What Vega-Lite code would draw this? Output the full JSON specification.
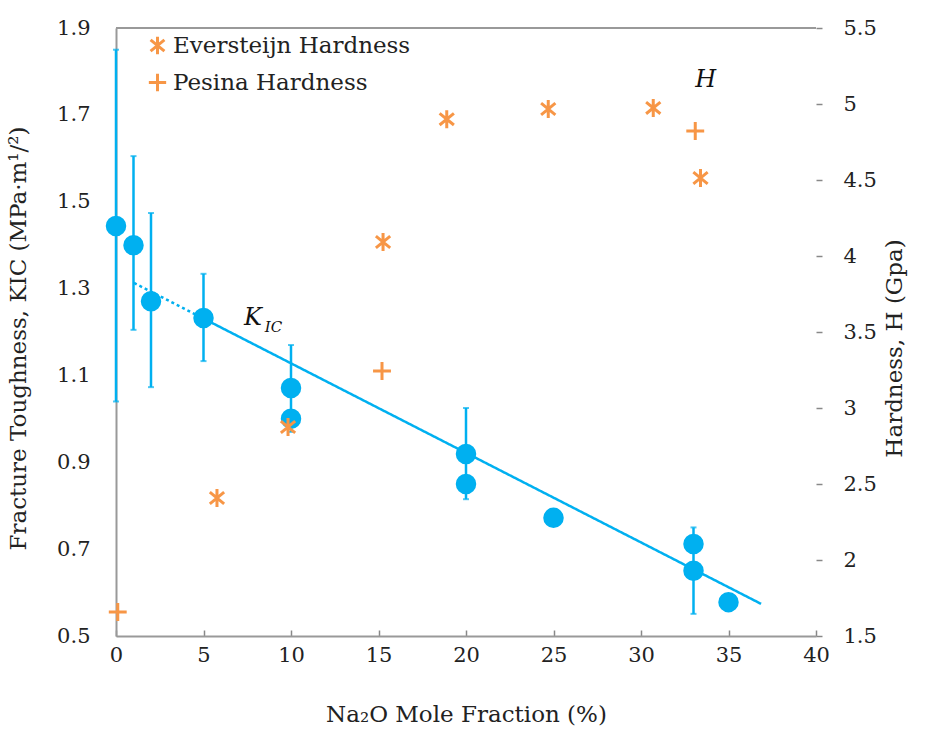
{
  "$schema": "https://vega.github.io/schema/vega-lite/v6.json",
  "width": 700,
  "height": 608,
  "autosize": {"type": "none"},
  "padding": {"left": 116, "top": 28, "right": 109, "bottom": 99},
  "background": "white",
  "config": {
    "view": {"stroke": null},
    "font": "DejaVu Serif",
    "axis": {
      "labelFont": "DejaVu Serif",
      "titleFont": "DejaVu Serif",
      "labelFontSize": 21,
      "titleFontSize": 23,
      "titleFontWeight": "normal",
      "labelColor": "#222222",
      "titleColor": "#222222",
      "grid": false,
      "domainColor": "#999999",
      "domainWidth": 2,
      "tickColor": "#888888",
      "tickWidth": 1.5
    },
    "legend": {
      "labelFont": "DejaVu Serif",
      "labelFontSize": 23,
      "labelColor": "#222222",
      "labelLimit": 400
    }
  },
  "datasets": {
    "kic": [
      {"x": 0, "k": 1.444, "lo": 1.04, "hi": 1.85},
      {"x": 1, "k": 1.40, "lo": 1.205, "hi": 1.605},
      {"x": 2, "k": 1.271, "lo": 1.073, "hi": 1.474},
      {"x": 5, "k": 1.232, "lo": 1.133, "hi": 1.334},
      {"x": 10, "k": 1.071, "lo": 0.97, "hi": 1.17},
      {"x": 10, "k": 1.0},
      {"x": 20, "k": 0.919, "lo": 0.815, "hi": 1.025},
      {"x": 20, "k": 0.85},
      {"x": 25, "k": 0.772},
      {"x": 33, "k": 0.712},
      {"x": 33, "k": 0.65, "lo": 0.551, "hi": 0.75},
      {"x": 35, "k": 0.578}
    ],
    "trend": [
      {"x": 1.03, "k": 1.313, "seg": "a"},
      {"x": 5.0, "k": 1.231, "seg": "a"},
      {"x": 5.0, "k": 1.231, "seg": "b"},
      {"x": 36.86, "k": 0.574, "seg": "b"}
    ],
    "hard": [
      {"x": 5.77, "h": 2.408, "src": "Eversteijn Hardness"},
      {"x": 9.83, "h": 2.875, "src": "Eversteijn Hardness"},
      {"x": 15.26, "h": 4.092, "src": "Eversteijn Hardness"},
      {"x": 18.9, "h": 4.90, "src": "Eversteijn Hardness"},
      {"x": 24.7, "h": 4.967, "src": "Eversteijn Hardness"},
      {"x": 30.7, "h": 4.974, "src": "Eversteijn Hardness"},
      {"x": 33.4, "h": 4.513, "src": "Eversteijn Hardness"},
      {"x": 0.1, "h": 1.658, "src": "Pesina Hardness"},
      {"x": 15.2, "h": 3.243, "src": "Pesina Hardness"},
      {"x": 33.1, "h": 4.822, "src": "Pesina Hardness"}
    ]
  },
  "layer": [
    {
      "layer": [
        {
          "data": {"name": "kic"},
          "transform": [{"filter": "isValid(datum.lo)"}],
          "mark": {"type": "rule", "color": "#00B0F0", "strokeWidth": 2.5},
          "encoding": {
            "x": {"field": "x", "type": "quantitative", "scale": {"domain": [0, 40], "nice": false},
              "axis": {"values": [0, 5, 10, 15, 20, 25, 30, 35, 40], "title": "Na₂O Mole Fraction (%)", "tickSize": -6, "labelPadding": 14, "titlePadding": 38, "labelFlush": false}},
            "y": {"field": "lo", "type": "quantitative", "scale": {"domain": [0.5, 1.9], "nice": false, "zero": false},
              "axis": {"orient": "left", "values": [0.5, 0.7, 0.9, 1.1, 1.3, 1.5, 1.7, 1.9], "format": ".1f", "ticks": false, "labelPadding": 26,
                "title": "Fracture Toughness, KIC (MPa·m¹/²)", "titleX": -86, "titleY": 310}},
            "y2": {"field": "hi"}
          }
        },
        {
          "data": {"name": "kic"},
          "transform": [{"filter": "isValid(datum.lo)"}, {"fold": ["lo", "hi"], "as": ["end", "v"]}],
          "mark": {"type": "tick", "color": "#00B0F0", "thickness": 2, "size": 6, "orient": "horizontal"},
          "encoding": {
            "x": {"field": "x", "type": "quantitative"},
            "y": {"field": "v", "type": "quantitative"}
          }
        },
        {
          "data": {"name": "trend"},
          "mark": {"type": "line", "color": "#00B0F0", "strokeWidth": 2.5},
          "encoding": {
            "x": {"field": "x", "type": "quantitative"},
            "y": {"field": "k", "type": "quantitative"},
            "detail": {"field": "seg"},
            "strokeDash": {"field": "seg", "type": "nominal", "scale": {"domain": ["a", "b"], "range": [[3, 3], [1, 0]]}, "legend": null}
          }
        },
        {
          "data": {"name": "kic"},
          "mark": {"type": "circle", "color": "#00B0F0", "size": 420, "opacity": 1},
          "encoding": {
            "x": {"field": "x", "type": "quantitative"},
            "y": {"field": "k", "type": "quantitative"}
          }
        },
        {
          "data": {"values": [{"x": 7.83, "k": 1.232, "t": "K"}]},
          "mark": {"type": "text", "font": "DejaVu Serif", "fontSize": 24, "fontStyle": "italic", "color": "#111111"},
          "encoding": {
            "x": {"field": "x", "type": "quantitative"},
            "y": {"field": "k", "type": "quantitative"},
            "text": {"field": "t"}
          }
        },
        {
          "data": {"values": [{"x": 9.0, "k": 1.212, "t": "IC"}]},
          "mark": {"type": "text", "font": "DejaVu Serif", "fontSize": 15, "fontStyle": "italic", "color": "#111111"},
          "encoding": {
            "x": {"field": "x", "type": "quantitative"},
            "y": {"field": "k", "type": "quantitative"},
            "text": {"field": "t"}
          }
        },
        {
          "data": {"values": [{"a": 0, "b": 40, "k": 1.9}]},
          "mark": {"type": "rule", "color": "#999999", "strokeWidth": 2},
          "encoding": {
            "x": {"field": "a", "type": "quantitative"},
            "x2": {"field": "b"},
            "y": {"field": "k", "type": "quantitative"}
          }
        }
      ]
    },
    {
      "layer": [
        {
          "data": {"name": "hard"},
          "mark": {"type": "point", "filled": false, "size": 320, "strokeWidth": 3, "opacity": 1},
          "encoding": {
            "x": {"field": "x", "type": "quantitative"},
            "y": {"field": "h", "type": "quantitative", "scale": {"domain": [1.5, 5.5], "nice": false, "zero": false},
              "axis": {"orient": "right", "values": [1.5, 2, 2.5, 3, 3.5, 4, 4.5, 5, 5.5], "format": ".1~f", "domain": false, "tickSize": 6, "labelPadding": 21,
                "title": "Hardness, H (Gpa)", "titleX": 90, "titleY": 320, "titleAngle": -90}},
            "color": {"field": "src", "type": "nominal", "scale": {"domain": ["Eversteijn Hardness", "Pesina Hardness"], "range": ["#F79646", "#F79646"]},
              "legend": {"title": null, "orient": "none", "legendX": 30, "legendY": 6, "symbolStrokeWidth": 3, "symbolSize": 300, "rowPadding": 6, "labelOffset": 4, "symbolFillColor": "transparent"}},
            "shape": {"field": "src", "type": "nominal", "scale": {"domain": ["Eversteijn Hardness", "Pesina Hardness"], "range": ["M0,-1L0,1M-0.8,-0.65L0.8,0.65M-0.8,0.65L0.8,-0.65", "M-1,0L1,0M0,-1L0,1"]}}
          }
        },
        {
          "data": {"values": [{"x": 33.7, "h": 5.16, "t": "H"}]},
          "mark": {"type": "text", "font": "DejaVu Serif", "fontSize": 24, "fontStyle": "italic", "color": "#111111"},
          "encoding": {
            "x": {"field": "x", "type": "quantitative"},
            "y": {"field": "h", "type": "quantitative"},
            "text": {"field": "t"}
          }
        }
      ]
    }
  ],
  "resolve": {"scale": {"y": "independent"}}
}
